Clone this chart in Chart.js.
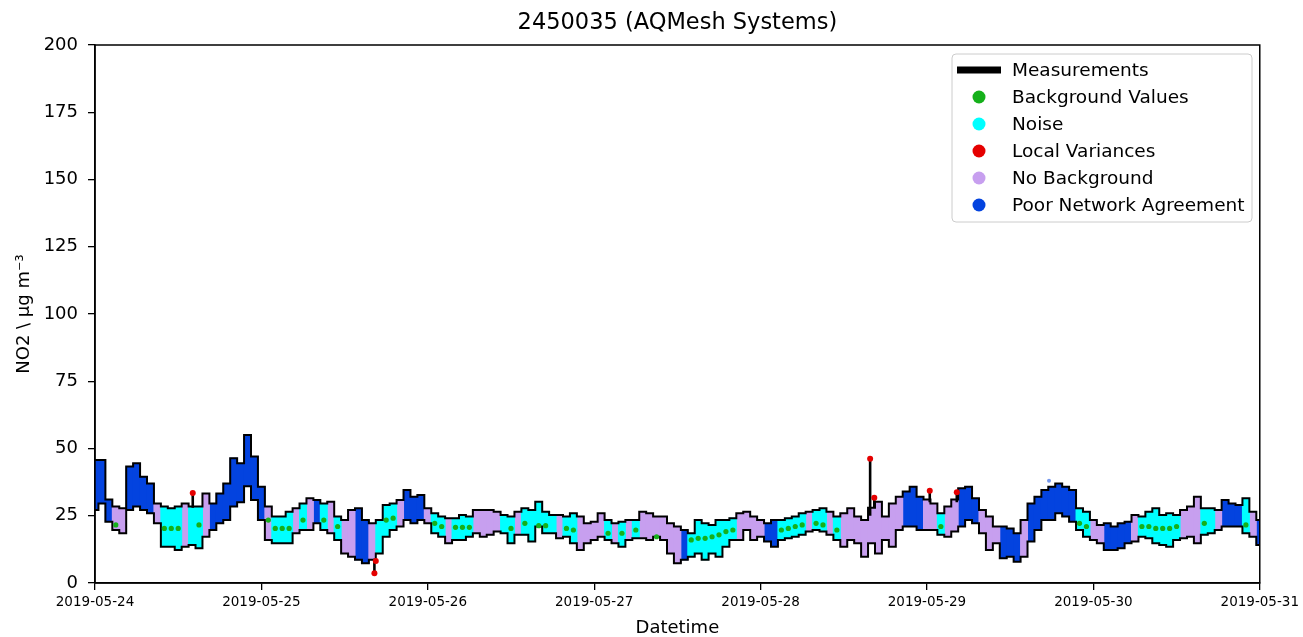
<!DOCTYPE html>
<html>
<head>
<meta charset="utf-8">
<title>2450035 (AQMesh Systems)</title>
<script src="https://cdn.jsdelivr.net/npm/chart.js@4.4.1/dist/chart.umd.min.js"></script>
<style>
    body { margin: 0; background: #fff; }
    canvas { display: block; }
</style>
</head>
<body>
<canvas id="diagram" width="1303" height="637"></canvas>
<script>
// x is hours since 2019-05-24 00:00, one band per hour
const dayLabels = ['2019-05-24', '2019-05-25', '2019-05-26', '2019-05-27', '2019-05-28', '2019-05-29', '2019-05-30', '2019-05-31'];

// upper / lower edge of the measurement band, per hour
const bandHigh = [
    45.7, 45.7, 31, 28.4, 27.8, 43.3, 44.5, 39.5, 37, 29.6, 28.4, 27.8, 28.4, 29.6, 28.4, 28.4, 33.3, 29.6, 33.3, 37, 46.4, 44.5, 55, 47, 35.8, 28.4, 24.7, 24.7,
    26.5, 27.8, 29.6, 31.5, 30.9, 29.6, 30.2, 24.7, 23.4, 27.1, 27.8, 23.4, 22.2, 23.4, 29, 29.6, 30.9, 34.6, 32.1, 32.7, 27.8, 25.9, 24.7, 24.1, 24.1, 25.3, 24.7, 27.1,
    27.1, 27.1, 26.5, 25.3, 24.7, 26.5, 27.8, 27.1, 30.2, 26.5, 25.3, 25.3, 24.7, 25.9, 24.7, 22.2, 22.8, 25.9, 23.4, 22.2, 22.8, 23.4, 23.4, 26.5, 25.9, 24.7, 24.7, 22.2, 21,
    19.7, 18.5, 23.4, 22.2, 21.6, 23.4, 23.4, 24.1, 25.9, 26.5, 24.7, 23.4, 22.2, 23.4, 23.4, 24.1, 24.7, 25.9, 26.5, 27.1, 27.8, 26.5, 24.7, 25.9, 27.8, 24.7, 23.4, 28,
    30.2, 24.7, 29.6, 32.1, 34, 35.8, 32.1, 31, 29.6, 25.9, 28.4, 31, 35.2, 35.8, 31.5, 27.1, 24.7, 21, 21, 20.3, 18.5, 23.4, 29.6, 32.1, 34.6, 35.8, 37, 35.8,
    34.6, 27.8, 26.5, 23.4, 21.6, 22.2, 21, 22.2, 22.8, 25.3, 24.7, 26.5, 27.8, 25.3, 25.9, 25.3, 27.1, 28.4, 32.1, 27.8, 27.8, 27.1, 30.9, 29.6, 29, 31.5, 26.5, 23.4
];
const bandLow = [
    27.1, 29.6, 22.8, 19.7, 18.5, 27.1, 28.4, 27.1, 25.9, 22.2, 13.5, 13.5, 12.3, 13.5, 14.1, 12.9, 17.2, 19.7, 22.2, 23.4, 28.4, 30, 36, 30.9, 23.4, 16, 14.8, 14.8,
    14.8, 18.5, 19.7, 19.7, 22.2, 19.7, 18.5, 16, 11, 9.8, 8.6, 7.3, 8.6, 11, 17.2, 19.7, 21, 23.4, 22.2, 23.4, 22.2, 18.5, 17.2, 14.8, 16, 16, 17.2, 18.5,
    17.2, 17.9, 19.1, 18.5, 14.8, 17.9, 17.9, 15.4, 21, 18.5, 18.5, 16.6, 17.2, 14.8, 12.3, 14.8, 16, 17.2, 16, 14.8, 13.5, 16, 16.6, 16.6, 16, 17.2, 16, 11, 7.3,
    8.6, 9.8, 11, 8.6, 11, 9.8, 13.5, 16, 16, 19.7, 16, 17.2, 15.4, 13.5, 16, 16.6, 17.2, 17.9, 19.1, 19.7, 19.1, 17.9, 16, 13.5, 16, 14.8, 9.8, 14.8,
    11, 16, 13.5, 19.7, 21, 21, 19.7, 19.7, 19.7, 17.9, 17.2, 19.1, 21, 23.4, 22.2, 18.5, 12.3, 14.8, 9.2, 9.8, 7.9, 9.8, 15.4, 19.7, 23.4, 23.4, 25.9, 24.7,
    22.8, 19.7, 17.2, 16, 14.8, 12.3, 12.3, 12.9, 14.8, 15.4, 17.2, 16.6, 14.8, 14.1, 13.5, 16, 16.6, 17.2, 14.8, 17.9, 18.5, 19.7, 21, 21, 21, 18.5, 17.2, 14.1
];
// flag per hour: C = noise, L = no background, B = poor network agreement
const bandClass = (
    'BBBLLBBBBLCCCLCCLBBBBBBBBLCC' +
    'CLCLBCLCLLBBLCCCLBBBLCCLCCCL' +
    'LLLCCLCCCCCLCCLLLLCLCLCLLLLLL' +
    'BCCCCCCCLLLLBBCCCCLCCLCLLLLL' +
    'LLLLBBBLLCLLBBBLLLBBBLBBBBBB' +
    'BCCLLBBBBLCCCCCCLLLCCLBBBCLB'
).split('');

// background values
const greenHours = [3, 10, 11, 12, 15, 25, 26, 27, 28, 30, 33, 35, 42, 43, 49, 50, 52, 53, 54, 60, 62, 64, 65, 68, 69, 74, 76, 78, 81, 86, 87, 88, 89, 90, 91, 92, 99, 100, 101, 102, 104, 105, 107, 122, 142, 143, 151, 152, 153, 154, 155, 156, 160, 166];
const greenValues = [21.6, 20.3, 20.3, 20.3, 21.6, 23.4, 20.3, 20.3, 20.3, 23.4, 23.4, 21, 23.4, 24.1, 22.2, 21, 20.7, 20.7, 20.7, 20.3, 22.2, 21.3, 21.3, 20.3, 19.7, 18.5, 18.5, 19.7, 17.2, 16, 16.6, 16.6, 17.2, 17.9, 19.1, 19.7, 19.7, 20.3, 21, 21.6, 22.2, 21.6, 19.7, 21, 22.2, 21, 21, 21, 20.3, 20.3, 20.3, 21, 22.2, 21.6];

// local variances
const localHours = [14.1, 40.3, 40.5, 111.8, 112.4, 120.4, 124.3];
const localValues = [33.5, 3.6, 8.2, 46.2, 31.7, 34.3, 33.7];

// short measurement excursions outside the band
const spikeHours = [14.1, 40.3, 111.8, 112.4, 120.4, 124.3];
const spikeLow = [28, 3, 25, 28, 30, 30];
const spikeHigh = [33.5, 9, 46.8, 32, 34.5, 34];

// stray poor network point
const strayHours = [137.6];
const strayValues = [38];

const seriesNames = ['Measurements', 'Background Values', 'Noise', 'Local Variances', 'No Background', 'Poor Network Agreement'];
const seriesColors = ['#000000', '#15b01a', '#00ffff', '#e50000', '#c79fef', '#0343df'];
const classNames = { C: 'Noise', L: 'No Background', B: 'Poor Network Agreement' };

const FONT = '"DejaVu Sans", sans-serif';
Chart.defaults.font.family = FONT;
Chart.defaults.color = '#000';

function colorOf(name) {
    return seriesColors[seriesNames.indexOf(name)];
}

function bandDataset(code) {
    let data = [];
    bandClass.forEach((c, h) => {
        if (c === code) data.push({ x: h, y: [bandLow[h], bandHigh[h]] });
    });
    return {
        type: 'bar',
        label: classNames[code],
        data: data,
        backgroundColor: colorOf(classNames[code]),
        borderWidth: 0,
        grouped: false,
        barThickness: 7.3,
        order: 5
    };
}

function edgeDataset(values) {
    return {
        type: 'line',
        label: 'Measurements',
        data: values.map((v, h) => ({ x: h, y: v })),
        borderColor: '#000',
        borderWidth: 2,
        stepped: 'middle',
        pointRadius: 0,
        order: 3
    };
}

let spikeData = [];
spikeHours.forEach((h, i) => {
    spikeData.push({ x: h, y: spikeLow[i] }, { x: h, y: spikeHigh[i] }, { x: h, y: null });
});

function pointDataset(label, hours, values, color, radius, order) {
    return {
        type: 'scatter',
        label: label,
        data: hours.map((h, i) => ({ x: h, y: values[i] })),
        backgroundColor: color,
        borderWidth: 0,
        pointRadius: radius,
        order: order
    };
}

// frame, title and the matplotlib style legend box
const decorPlugin = {
    id: 'decor',
    afterDatasetsDraw(chart) {
        const { ctx, chartArea: a } = chart;
        ctx.save();
        ctx.strokeStyle = '#000';
        ctx.lineWidth = 1.5;
        ctx.strokeRect(a.left, a.top, a.right - a.left, a.bottom - a.top);
        ctx.restore();
    },
    afterDraw(chart) {
        const { ctx, chartArea: a } = chart;
        ctx.save();
        ctx.fillStyle = '#000';
        ctx.font = '22.5px ' + FONT;
        ctx.textAlign = 'center';
        ctx.textBaseline = 'middle';
        ctx.fillText('2450035 (AQMesh Systems)', (a.left + a.right) / 2, 23);

        // legend
        const bx = 952, by = 54, bw = 300, bh = 168;
        ctx.beginPath();
        ctx.roundRect(bx, by, bw, bh, 4);
        ctx.fillStyle = 'rgba(255,255,255,0.85)';
        ctx.fill();
        ctx.strokeStyle = '#cccccc';
        ctx.lineWidth = 1;
        ctx.stroke();

        ctx.font = '18.5px ' + FONT;
        ctx.textAlign = 'left';
        seriesNames.forEach((name, i) => {
            const y = by + 16 + i * 27;
            if (i === 0) {
                ctx.fillStyle = '#000';
                ctx.fillRect(957, y - 3.5, 44, 7);
            } else {
                ctx.beginPath();
                ctx.arc(979, y, 6.5, 0, Math.PI * 2);
                ctx.fillStyle = seriesColors[i];
                ctx.fill();
            }
            ctx.fillStyle = '#000';
            ctx.fillText(name, 1012, y + 1);
        });
        ctx.restore();
    }
};

const chart = new Chart(document.getElementById('diagram'), {
    data: {
        datasets: [
            pointDataset('Local Variances', localHours, localValues, colorOf('Local Variances'), 3, 0),
            pointDataset('Background Values', greenHours, greenValues, colorOf('Background Values'), 2.6, 1),
            pointDataset('Poor Network Agreement', strayHours, strayValues, 'rgba(3,67,223,0.55)', 2, 1),
            {
                type: 'line',
                label: 'Measurements',
                data: spikeData,
                borderColor: '#000',
                borderWidth: 2.6,
                pointRadius: 0,
                spanGaps: false,
                order: 2
            },
            edgeDataset(bandHigh),
            edgeDataset(bandLow),
            bandDataset('C'),
            bandDataset('L'),
            bandDataset('B')
        ]
    },
    options: {
        responsive: false,
        animation: false,
        layout: { padding: { top: 45, right: 42, left: 0, bottom: 0 } },
        plugins: {
            legend: { display: false },
            tooltip: { enabled: false },
            title: { display: false }
        },
        scales: {
            x: {
                type: 'linear',
                min: 0,
                max: 168,
                offset: false,
                ticks: {
                    stepSize: 24,
                    autoSkip: false,
                    maxRotation: 0,
                    padding: 4,
                    font: { size: 13.5 },
                    callback: v => dayLabels[v / 24]
                },
                grid: { offset: false, drawOnChartArea: false, tickLength: 7, color: '#000', lineWidth: 1.3 },
                border: { color: '#000', width: 1.5 },
                title: { display: true, text: 'Datetime', font: { size: 18, lineHeight: 1 }, padding: 0 },
                afterFit: scale => { scale.height = 54; }
            },
            y: {
                min: 0,
                max: 200,
                ticks: { stepSize: 25, padding: 10, font: { size: 18 } },
                grid: { drawOnChartArea: false, tickLength: 7, color: '#000', lineWidth: 1.3 },
                border: { color: '#000', width: 1.5 },
                title: { display: true, text: 'NO2 \\ μg m⁻³', font: { size: 18 }, padding: { top: 14, bottom: 0 } },
                afterFit: scale => { scale.width = 95; }
            }
        }
    },
    plugins: [decorPlugin]
});
</script>
</body>
</html>
